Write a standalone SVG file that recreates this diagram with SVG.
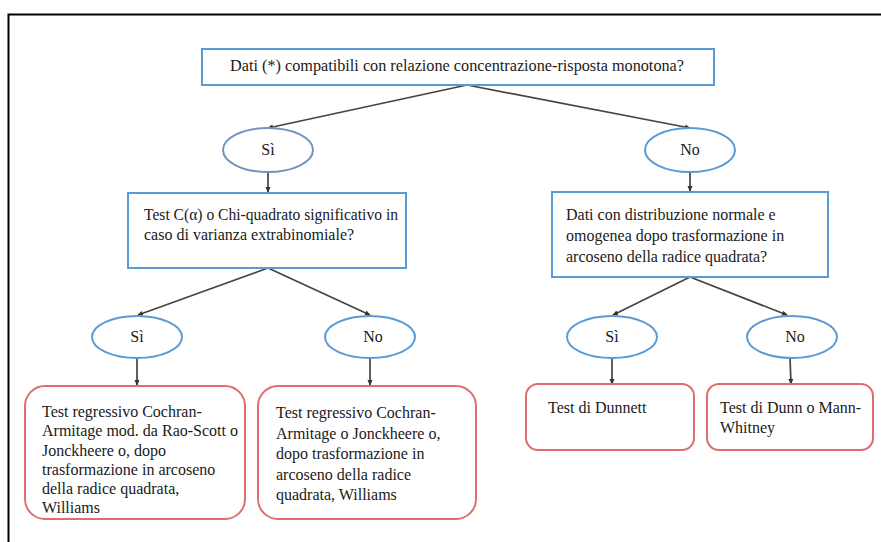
<svg xmlns="http://www.w3.org/2000/svg" width="881" height="542" viewBox="0 0 881 542">
<style>
.q{fill:#fff;stroke:#5b9bd5;stroke-width:2}
.e{fill:#fff;stroke:#5b9bd5;stroke-width:2}
.r{fill:#fff;stroke:#e06c6c;stroke-width:2}
.t{font-family:"Liberation Serif",serif;font-size:16px;fill:#1a1a1a}
.c{stroke:#444;stroke-width:1.7;fill:none;marker-end:url(#ah)}
</style>
<defs>
<marker id="ah" markerWidth="6" markerHeight="6" refX="5" refY="3" orient="auto" markerUnits="userSpaceOnUse">
<path d="M0,0.5 L6,3 L0,5.5 Z" fill="#333"/>
</marker>
</defs>
<rect width="881" height="542" fill="#fff"/>
<path d="M8.5,542 V14.5 H881" fill="none" stroke="#000" stroke-width="2"/>
<g id="connectors">
<line class="c" x1="467" y1="85" x2="268" y2="128"/>
<line class="c" x1="467" y1="85" x2="690" y2="128"/>
<line class="c" x1="268" y1="172" x2="268" y2="192"/>
<line class="c" x1="690" y1="172" x2="690" y2="191"/>
<line class="c" x1="268" y1="268" x2="138" y2="315"/>
<line class="c" x1="268" y1="268" x2="370" y2="315"/>
<line class="c" x1="690" y1="277" x2="613" y2="315"/>
<line class="c" x1="690" y1="277" x2="787" y2="315"/>
<line class="c" x1="137" y1="358" x2="137" y2="385"/>
<line class="c" x1="370" y1="358" x2="370" y2="385"/>
<line class="c" x1="612" y1="358" x2="612" y2="384"/>
<line class="c" x1="790" y1="358" x2="791" y2="384"/>
</g>
<g id="n-root">
<rect class="q" x="202" y="49" width="512" height="36"/>
<text class="t" x="230" y="71" textLength="454" lengthAdjust="spacingAndGlyphs">Dati (*) compatibili con relazione concentrazione-risposta monotona?</text>
</g>
<g id="n-si1">
<ellipse class="e" cx="268" cy="150" rx="45" ry="22" style="stroke:#7294bd"/>
<text class="t" x="268" y="155" text-anchor="middle">Sì</text>
</g>
<g id="n-no1">
<ellipse class="e" cx="690" cy="150" rx="45" ry="22"/>
<text class="t" x="690" y="155" text-anchor="middle">No</text>
</g>
<g id="n-q2">
<rect class="q" x="128" y="193" width="278" height="75"/>
<text class="t" x="144" y="220" textLength="254" lengthAdjust="spacingAndGlyphs">Test C(α) o Chi-quadrato significativo in</text>
<text class="t" x="144" y="240">caso di varianza extrabinomiale?</text>
</g>
<g id="n-q3">
<rect class="q" x="552" y="192" width="276" height="85"/>
<text class="t" x="566" y="220">Dati con distribuzione normale e</text>
<text class="t" x="566" y="241">omogenea dopo trasformazione in</text>
<text class="t" x="566" y="262">arcoseno della radice quadrata?</text>
</g>
<g id="n-si2">
<ellipse class="e" cx="137" cy="337" rx="45" ry="21"/>
<text class="t" x="137" y="342" text-anchor="middle">Sì</text>
</g>
<g id="n-no2">
<ellipse class="e" cx="370" cy="337" rx="45" ry="21"/>
<text class="t" x="373" y="342" text-anchor="middle">No</text>
</g>
<g id="n-si3">
<ellipse class="e" cx="612" cy="337" rx="45" ry="21"/>
<text class="t" x="612" y="342" text-anchor="middle">Sì</text>
</g>
<g id="n-no3">
<ellipse class="e" cx="792" cy="337" rx="45" ry="21"/>
<text class="t" x="795" y="342" text-anchor="middle">No</text>
</g>
<g id="n-a">
<rect class="r" x="25" y="386" width="220" height="133" rx="20"/>
<text class="t" x="42" y="417">Test regressivo Cochran-</text>
<text class="t" x="42" y="436">Armitage mod. da Rao-Scott o</text>
<text class="t" x="42" y="455.5">Jonckheere o, dopo</text>
<text class="t" x="42" y="475">trasformazione in arcoseno</text>
<text class="t" x="42" y="494">della radice quadrata,</text>
<text class="t" x="42" y="513">Williams</text>
</g>
<g id="n-b">
<rect class="r" x="258" y="386" width="218" height="133" rx="20"/>
<text class="t" x="276" y="418">Test regressivo Cochran-</text>
<text class="t" x="276" y="439">Armitage o Jonckheere o,</text>
<text class="t" x="276" y="459">dopo trasformazione in</text>
<text class="t" x="276" y="479.5">arcoseno della radice</text>
<text class="t" x="276" y="500">quadrata, Williams</text>
</g>
<g id="n-c">
<rect class="r" x="526" y="384" width="168" height="66" rx="12"/>
<text class="t" x="548" y="413">Test di Dunnett</text>
</g>
<g id="n-d">
<rect class="r" x="707" y="384" width="166" height="66" rx="12"/>
<text class="t" x="720" y="413">Test di Dunn o Mann-</text>
<text class="t" x="720" y="433">Whitney</text>
</g>
</svg>
